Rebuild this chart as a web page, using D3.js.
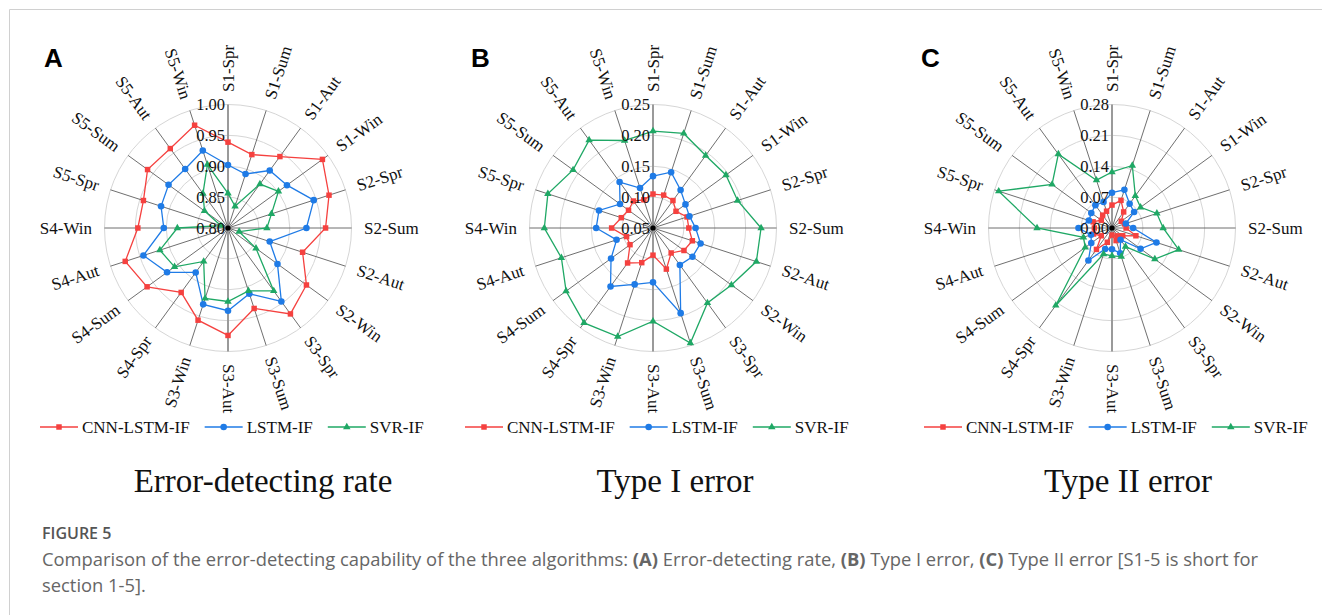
<!DOCTYPE html>
<html>
<head>
<meta charset="utf-8">
<script src="https://cdn.jsdelivr.net/npm/d3@7"></script>
<style>
  body { margin: 0; background: #fff; }
  svg { display: block; }
</style>
</head>
<body>
<svg id="fig" width="1322" height="615"></svg>
<script>
// categories, clockwise from the top
var categories = ["S1-Spr", "S1-Sum", "S1-Aut", "S1-Win", "S2-Spr", "S2-Sum", "S2-Aut", "S2-Win",
    "S3-Spr", "S3-Sum", "S3-Aut", "S3-Win", "S4-Spr", "S4-Sum", "S4-Aut", "S4-Win",
    "S5-Spr", "S5-Sum", "S5-Aut", "S5-Win"];
var seriesNames = ["CNN-LSTM-IF", "LSTM-IF", "SVR-IF"];

// (A) error-detecting rate
var rateTicks = [0.80, 0.85, 0.90, 0.95, 1.00];
var rateCnn = [0.939, 0.925, 0.943, 0.989, 0.972, 0.958, 0.927, 0.957, 0.972, 0.937,
    0.974, 0.957, 0.929, 0.962, 0.975, 0.946, 0.944, 0.961, 0.959, 0.975];
var rateLstm = [0.902, 0.892, 0.915, 0.918, 0.946, 0.927, 0.871, 0.899, 0.947, 0.912,
    0.934, 0.930, 0.889, 0.922, 0.944, 0.904, 0.914, 0.919, 0.918, 0.932];
var rateSvr = [0.856, 0.837, 0.888, 0.901, 0.874, 0.863, 0.819, 0.856, 0.926, 0.907,
    0.919, 0.920, 0.867, 0.907, 0.916, 0.882, 0.812, 0.847, 0.869, 0.908];

// (B) type I error
var type1Ticks = [0.05, 0.10, 0.15, 0.20, 0.25];
var type1Cnn = [0.105, 0.106, 0.105, 0.096, 0.108, 0.108, 0.117, 0.112, 0.100, 0.120,
    0.094, 0.109, 0.120, 0.096, 0.095, 0.117, 0.104, 0.099, 0.104, 0.098];
var type1Lstm = [0.134, 0.145, 0.126, 0.115, 0.112, 0.119, 0.131, 0.129, 0.124, 0.195,
    0.138, 0.146, 0.167, 0.134, 0.112, 0.142, 0.142, 0.116, 0.142, 0.118];
var type1Svr = [0.207, 0.211, 0.195, 0.196, 0.194, 0.225, 0.226, 0.207, 0.200, 0.246,
    0.201, 0.235, 0.240, 0.224, 0.206, 0.226, 0.229, 0.210, 0.226, 0.199];

// (C) type II error
var type2Ticks = [0.00, 0.07, 0.14, 0.21, 0.28];
var type2Cnn = [0.052, 0.066, 0.045, 0.026, 0.030, 0.032, 0.057, 0.030, 0.022, 0.030,
    0.016, 0.034, 0.060, 0.030, 0.044, 0.040, 0.045, 0.030, 0.036, 0.040];
var type2Lstm = [0.080, 0.091, 0.068, 0.062, 0.033, 0.048, 0.106, 0.080, 0.033, 0.060,
    0.048, 0.050, 0.091, 0.058, 0.050, 0.076, 0.055, 0.058, 0.064, 0.062];
var type2Svr = [0.127, 0.149, 0.090, 0.080, 0.107, 0.116, 0.159, 0.120, 0.052, 0.068,
    0.063, 0.062, 0.217, 0.075, 0.068, 0.170, 0.270, 0.168, 0.207, 0.114];

var panelLetters = ["A", "B", "C"];
var panelTitles = ["Error-detecting rate", "Type I error", "Type II error"];

var panels = [
    {letter: panelLetters[0], title: panelTitles[0], ticks: rateTicks, series: [rateCnn, rateLstm, rateSvr]},
    {letter: panelLetters[1], title: panelTitles[1], ticks: type1Ticks, series: [type1Cnn, type1Lstm, type1Svr]},
    {letter: panelLetters[2], title: panelTitles[2], ticks: type2Ticks, series: [type2Cnn, type2Lstm, type2Svr]}
];

// layout
var centersX = [228, 653, 1112];
var centerY = 228;
var R = 123.5;
var letterX = [44, 471, 921];
var titleX = [263, 675, 1128];
var colors = ["#f5413f", "#1f7be6", "#1fa865"];
var symbols = [d3.symbolSquare, d3.symbolCircle, d3.symbolTriangle];
var symbolSizes = [30, 34, 24];
var serif = "'Liberation Serif', 'Times New Roman', serif";

var svg = d3.select("#fig");
svg.append("rect").attr("width", 1322).attr("height", 615).attr("fill", "#fff");

// card frame (top and left edges are visible)
svg.append("path").attr("d", "M9.5,640V9.5H1340")
    .attr("fill", "none").attr("stroke", "#d0d0d0").attr("stroke-width", 1);

var angle = d3.scaleLinear().domain([0, categories.length]).range([0, 2 * Math.PI]);

panels.forEach(function (p, k) {
    var g = svg.append("g").attr("transform", "translate(" + centersX[k] + "," + centerY + ")");
    var r = d3.scaleLinear().domain([p.ticks[0], p.ticks[p.ticks.length - 1]]).range([0, R]);

    // rings
    g.selectAll("circle.ring").data(p.ticks.slice(1)).enter().append("circle")
        .attr("class", "ring")
        .attr("r", function (d) { return r(d); })
        .attr("fill", "none").attr("stroke", "#d6d6d6").attr("stroke-width", 1);

    // spokes
    g.selectAll("line.spoke").data(categories).enter().append("line")
        .attr("class", "spoke")
        .attr("x1", 0).attr("y1", 0)
        .attr("x2", function (d, i) { return R * Math.sin(angle(i)); })
        .attr("y2", function (d, i) { return -R * Math.cos(angle(i)); })
        .attr("stroke", function (d, i) { return (i === 0 || i === 10) ? "#9a9a9a" : "#4a4a4a"; })
        .attr("stroke-width", function (d, i) { return (i === 0 || i === 10) ? 2 : 0.8; });

    // category labels
    g.selectAll("text.cat").data(categories).enter().append("text")
        .attr("class", "cat")
        .attr("transform", function (d, i) {
            var a = angle(i) * 180 / Math.PI;
            var rl = R + 12.5;
            var x = rl * Math.sin(angle(i)), y = -rl * Math.cos(angle(i));
            var rot = a <= 180 ? a - 90 : a - 270;
            return "translate(" + x + "," + y + ") rotate(" + rot + ")";
        })
        .attr("text-anchor", function (d, i) { return angle(i) <= Math.PI + 1e-6 ? "start" : "end"; })
        .attr("dominant-baseline", "central")
        .attr("font-family", serif).attr("font-size", 17).attr("fill", "#111")
        .text(function (d) { return d; });

    // series
    p.series.forEach(function (vals, s) {
        var line = d3.lineRadial()
            .angle(function (d, i) { return angle(i); })
            .radius(function (d) { return r(d); })
            .curve(d3.curveLinearClosed);
        g.append("path").datum(vals)
            .attr("d", line)
            .attr("fill", "none").attr("stroke", colors[s]).attr("stroke-width", 1.3);
        g.selectAll("path.m" + s).data(vals).enter().append("path")
            .attr("class", "m" + s)
            .attr("d", d3.symbol().type(symbols[s]).size(symbolSizes[s]))
            .attr("transform", function (d, i) {
                return "translate(" + (r(d) * Math.sin(angle(i))) + "," + (-r(d) * Math.cos(angle(i))) + ")";
            })
            .attr("fill", colors[s]);
    });

    // center dot
    g.append("circle").attr("r", 2.6).attr("fill", "#000");

    // tick labels on the vertical axis
    g.selectAll("text.tick").data(p.ticks).enter().append("text")
        .attr("class", "tick")
        .attr("x", -3)
        .attr("y", function (d) { return -r(d); })
        .attr("text-anchor", "end").attr("dominant-baseline", "central")
        .attr("font-family", serif).attr("font-size", 16.5).attr("fill", "#111")
        .text(function (d) { return d3.format(".2f")(d); });

    // panel letter
    svg.append("text").attr("x", letterX[k]).attr("y", 67)
        .attr("font-family", "'Liberation Sans', Arial, sans-serif").attr("font-weight", "bold")
        .attr("font-size", 26).attr("fill", "#000").text(p.letter);

    // legend
    var lx = centersX[k] - 188;
    var ly = 427;
    seriesNames.forEach(function (name, s) {
        svg.append("line").attr("x1", lx).attr("x2", lx + 38).attr("y1", ly).attr("y2", ly)
            .attr("stroke", colors[s]).attr("stroke-width", 1.3);
        svg.append("path").attr("d", d3.symbol().type(symbols[s]).size(symbolSizes[s]))
            .attr("transform", "translate(" + (lx + 19) + "," + ly + ")").attr("fill", colors[s]);
        var t = svg.append("text").attr("x", lx + 42).attr("y", ly)
            .attr("dominant-baseline", "central")
            .attr("font-family", serif).attr("font-size", 17).attr("fill", "#111").text(name);
        lx += 42 + t.node().getComputedTextLength() + 15;
    });

    // panel title
    svg.append("text").attr("x", titleX[k]).attr("y", 492)
        .attr("text-anchor", "middle")
        .attr("font-family", serif).attr("font-size", 33).attr("fill", "#111").text(p.title);
});

// caption
var sans = "'Open Sans', 'Noto Sans', sans-serif";
svg.append("text").attr("x", 42).attr("y", 539)
    .attr("font-family", sans).attr("font-weight", 600).attr("font-size", 16)
    .attr("fill", "#555").text("FIGURE 5");

var capLine = svg.append("text").attr("x", 42).attr("y", 566)
    .attr("font-family", sans).attr("font-size", 16).attr("fill", "#666");
[["Comparison of the error-detecting capability of the three algorithms: ", false], ["(A)", true],
 [" Error-detecting rate, ", false], ["(B)", true], [" Type I error, ", false], ["(C)", true],
 [" Type II error [S1-5 is short for", false]].forEach(function (part) {
    capLine.append("tspan").attr("font-weight", part[1] ? 700 : 400).text(part[0]);
});
// fit the first caption line to its width in the figure
var w = capLine.node().getComputedTextLength();
capLine.attr("font-size", 16 * 1216 / w);
svg.append("text").attr("x", 42).attr("y", 592)
    .attr("font-family", sans).attr("font-size", 16 * 1216 / w).attr("fill", "#666")
    .text("section 1-5].");
</script>
</body>
</html>
